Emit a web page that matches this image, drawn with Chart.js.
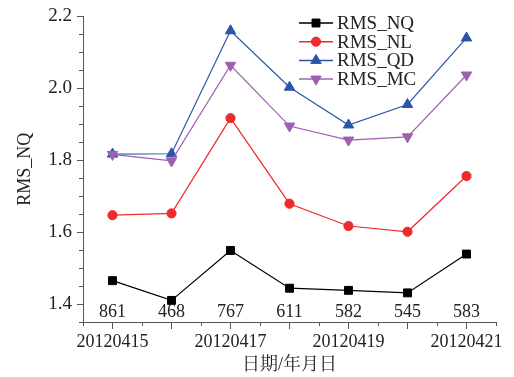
<!DOCTYPE html>
<html>
<head>
<meta charset="utf-8">
<script src="https://cdn.jsdelivr.net/npm/chart.js@4.4.1/dist/chart.umd.min.js"></script>
<style>body{margin:0;background:#fff}</style>
</head>
<body>
<canvas id="rms" width="514" height="377"></canvas>
<script>
const dates = ["20120415", "20120416", "20120417", "20120418", "20120419", "20120420", "20120421"];
const counts = [861, 468, 767, 611, 582, 545, 583];
const rmsNQ = [1.465, 1.410, 1.549, 1.444, 1.438, 1.431, 1.539];
const rmsNL = [1.647, 1.652, 1.917, 1.679, 1.617, 1.601, 1.756];
const rmsQD = [1.817, 1.818, 2.160, 2.003, 1.898, 1.955, 2.140];
const rmsMC = [1.816, 1.798, 2.064, 1.895, 1.856, 1.865, 2.037];
const yTicks = [1.4, 1.6, 1.8, 2.0, 2.2];

const serif = "'Liberation Serif', 'Times New Roman', 'Noto Serif CJK SC', 'Noto Sans CJK SC', serif";
const axisColor = "#555";
const textColor = "#222";

function series(label, data, color, style, radius, rotation, order) {
  return {
    label: label,
    data: data,
    borderColor: color,
    backgroundColor: color,
    borderWidth: 1.2,
    pointStyle: style,
    pointRadius: radius,
    pointRotation: rotation,
    pointBorderWidth: 1,
    tension: 0,
    order: order,
  };
}

// counts under each date, minor ticks and the legend box
const extras = {
  id: "extras",
  afterDraw(chart) {
    const ctx = chart.ctx;
    const x = chart.scales.x;
    const y = chart.scales.y;
    const area = chart.chartArea;
    ctx.save();

    // minor ticks
    ctx.strokeStyle = axisColor;
    ctx.lineWidth = 1;
    ctx.beginPath();
    for (let i = 0; i <= dates.length; i++) {
      const px = Math.round(x.getPixelForValue(i - 0.5)) + 0.5;
      ctx.moveTo(px, area.bottom);
      ctx.lineTo(px, area.bottom + 4);
    }
    for (let k = 27; k <= 44; k++) {
      if (k % 4 === 0) continue;
      const py = Math.round(y.getPixelForValue(k * 0.05)) + 0.5;
      ctx.moveTo(area.left, py);
      ctx.lineTo(area.left - 4, py);
    }
    ctx.stroke();

    // sample counts
    ctx.fillStyle = textColor;
    ctx.font = "18px " + serif;
    ctx.textAlign = "center";
    ctx.textBaseline = "middle";
    counts.forEach((c, i) => {
      ctx.fillText(String(c), x.getPixelForValue(i), area.bottom - 10);
    });

    // legend
    ctx.font = "19px " + serif;
    ctx.textAlign = "left";
    chart.data.datasets.forEach((ds, i) => {
      const ly = 23 + i * 18.7;
      ctx.strokeStyle = ds.borderColor;
      ctx.lineWidth = 1.5;
      ctx.beginPath();
      ctx.moveTo(299, ly);
      ctx.lineTo(333, ly);
      ctx.stroke();
      ctx.fillStyle = ds.backgroundColor;
      ctx.lineWidth = 1;
      Chart.helpers.drawPoint(ctx, {
        pointStyle: ds.pointStyle,
        radius: ds.pointRadius,
        rotation: ds.pointRotation,
        borderWidth: 1,
      }, 316, ly);
      ctx.fillStyle = textColor;
      ctx.fillText(ds.label, 337, ly + 1);
    });
    ctx.restore();
  },
};

const ctxRms = document.getElementById("rms").getContext("2d");
new Chart(ctxRms, {
  type: "line",
  data: {
    labels: dates,
    datasets: [
      series("RMS_NQ", rmsNQ, "#000000", "rect", 5.6, 0, 3),
      series("RMS_NL", rmsNL, "#ee2a2a", "circle", 4.6, 0, 2),
      series("RMS_QD", rmsQD, "#2b56a8", "triangle", 6, 0, 1),
      series("RMS_MC", rmsMC, "#a05eb0", "triangle", 6, 180, 0),
    ],
  },
  options: {
    responsive: false,
    animation: false,
    layout: { padding: { top: 16, right: 18, left: 0, bottom: 0 } },
    plugins: {
      legend: { display: false },
      tooltip: { enabled: false },
    },
    scales: {
      x: {
        offset: true,
        grid: { offset: false, drawOnChartArea: false, tickLength: 7, color: axisColor },
        border: { color: axisColor, width: 1 },
        ticks: {
          autoSkip: false,
          maxRotation: 0,
          padding: 2,
          color: textColor,
          font: { family: serif, size: 18 },
          callback: (v, i) => (i % 2 === 0 ? dates[i] : ""),
        },
        title: {
          display: true,
          text: "日期/年月日",
          color: textColor,
          font: { family: serif, size: 18 },
          padding: { top: 0, bottom: 1 },
        },
        afterFit: (s) => { s.height = 55; },
      },
      y: {
        min: 1.35,
        max: 2.2,
        grid: { drawOnChartArea: false, tickLength: 6, color: axisColor },
        border: { color: axisColor, width: 1 },
        afterBuildTicks: (s) => { s.ticks = yTicks.map((v) => ({ value: v })); },
        ticks: {
          padding: 5,
          color: textColor,
          font: { family: serif, size: 19 },
          callback: (v) => Number(v).toFixed(1),
        },
        title: {
          display: true,
          text: "RMS_NQ",
          color: textColor,
          font: { family: serif, size: 18 },
          padding: { top: 14, bottom: 0 },
        },
        afterFit: (s) => { s.width = 83; },
      },
    },
  },
  plugins: [extras],
});
</script>
</body>
</html>
